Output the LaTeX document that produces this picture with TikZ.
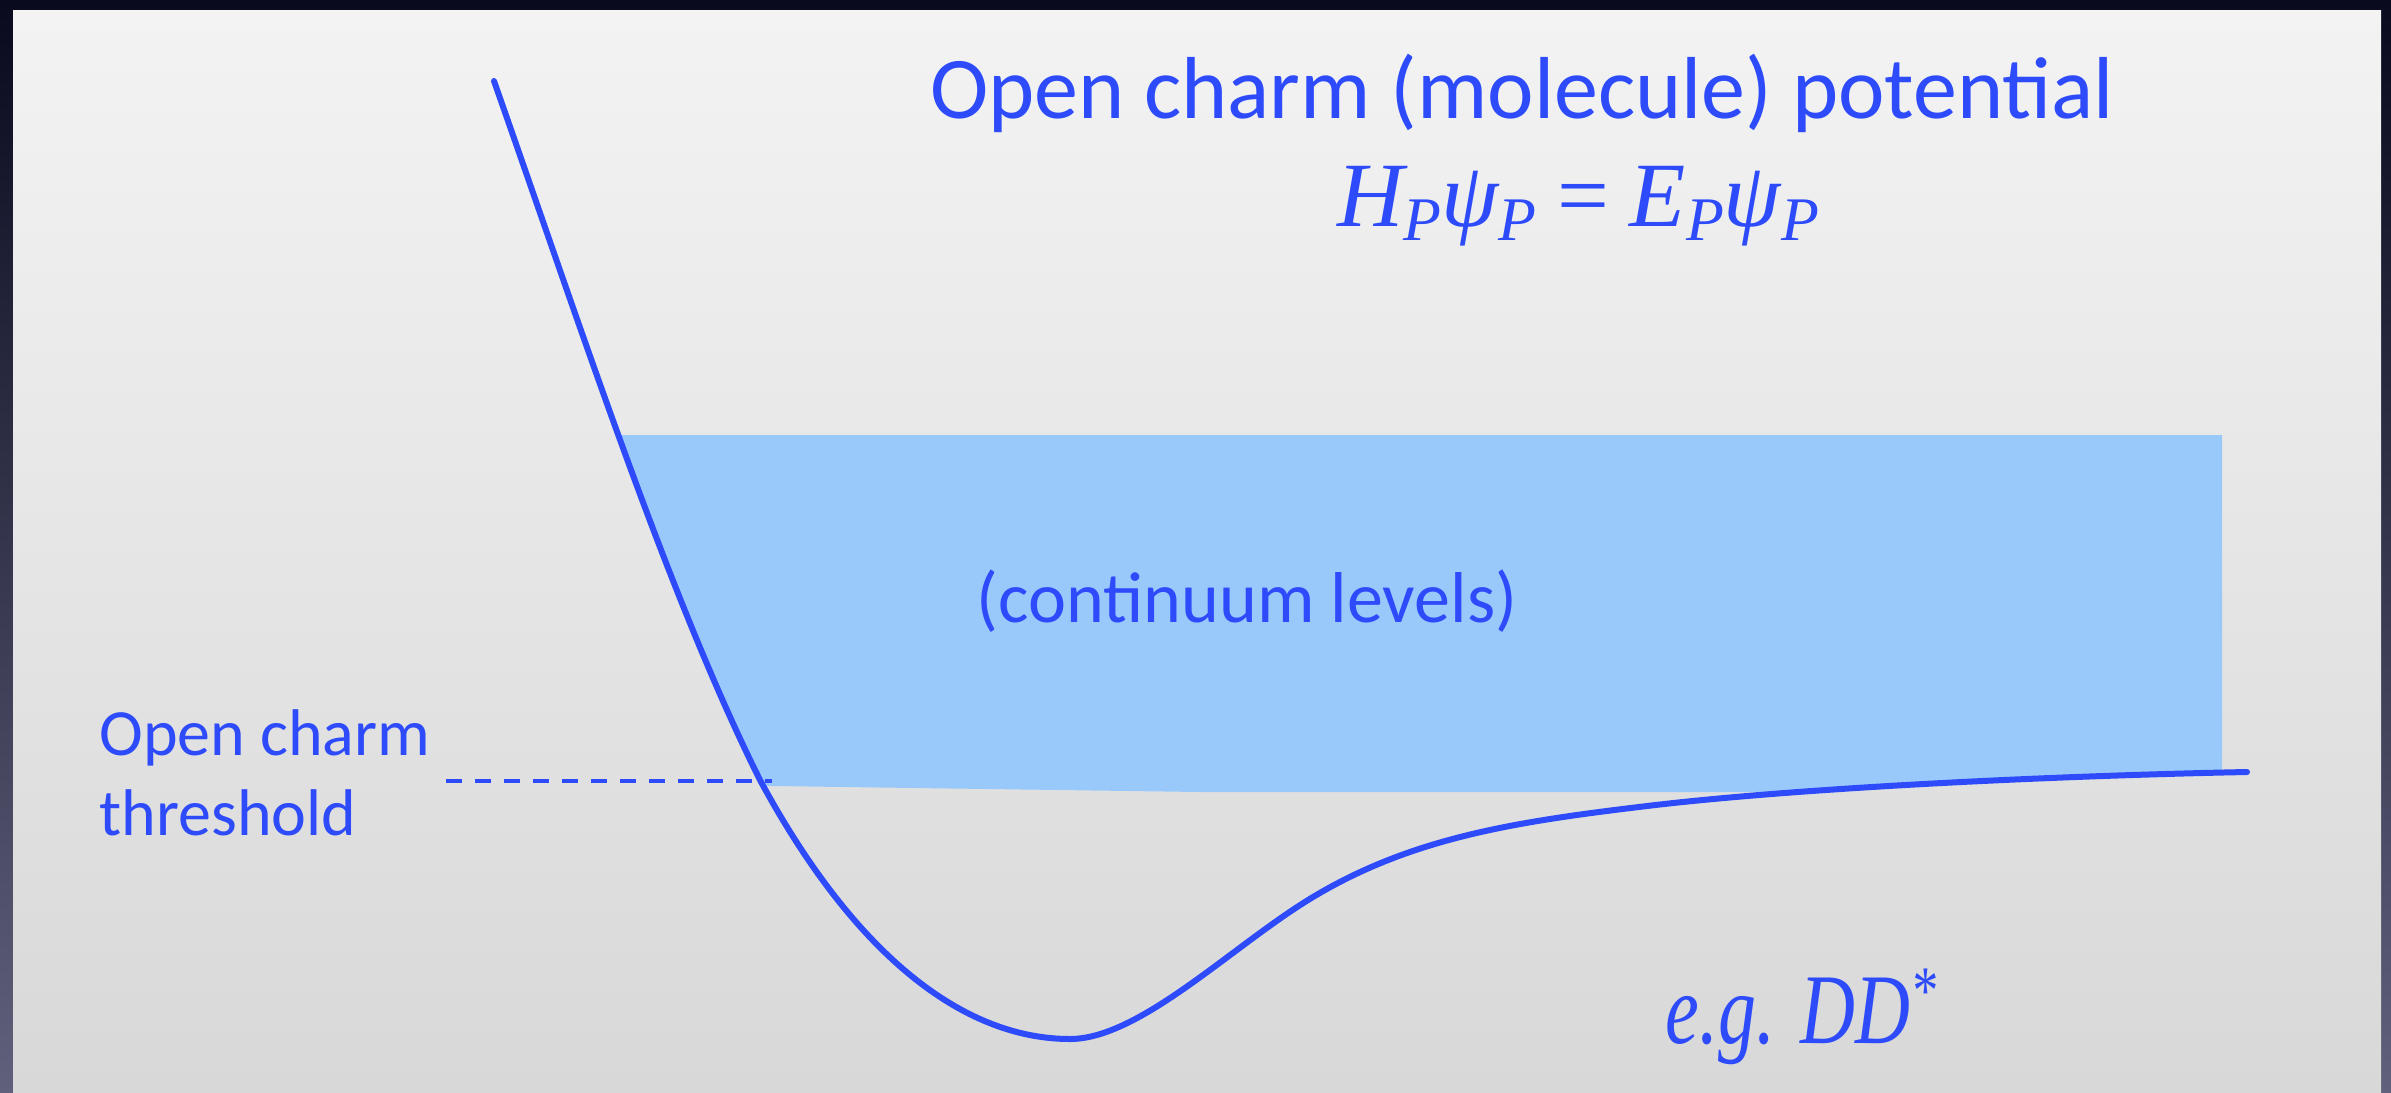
\documentclass[tikz,border=0pt]{standalone}
\usepackage{fontspec}
\setmainfont{Carlito}
\newfontfamily\eqfont{Liberation Serif}
\usepackage{graphicx}
\definecolor{potblue}{RGB}{45,75,250}
\definecolor{bandblue}{RGB}{153,201,250}
\definecolor{frametop}{RGB}{10,10,30}
\definecolor{framebot}{RGB}{96,96,124}
\definecolor{paneltop}{RGB}{243,243,243}
\definecolor{panelbot}{RGB}{216,216,216}
\newcommand{\sbP}{\raisebox{-7pt}{\fontsize{31}{31}\selectfont P}}
\tikzset{
  lbl/.style={text=potblue, inner sep=0pt},
  potline/.style={draw=potblue, line width=3pt, line cap=round},
  thrline/.style={draw=potblue, line width=2pt, dash pattern=on 8pt off 6.5pt}
}
\begin{document}
\begin{tikzpicture}[x=0.5pt, y=-0.5pt]
\useasboundingbox (0,0) rectangle (2391,1092);
% frame and panel
\shade[top color=frametop, bottom color=framebot] (0,0) rectangle (2391,1092);
\shade[top color=paneltop, bottom color=panelbot] (13,10) rectangle (2381,1092);
% continuum band, clipped to the region above the potential
\begin{scope}
\clip (494,81) .. controls (584,337) and (670,600) .. (760,780)
  .. controls (860,965) and (970,1039) .. (1070,1039)
  .. controls (1140,1039) and (1233,945) .. (1313,897)
  .. controls (1413,837) and (1517,821.6) .. (1647,806)
  .. controls (1797,788) and (2047,776) .. (2247,772)
  -- (2400,772) -- (2400,0) -- (494,0) -- cycle;
\fill[bandblue] (500,435) -- (2222,435) -- (2222,800) -- (1800,792) -- (1200,792) -- (773,786) -- (500,784) -- cycle;
\end{scope}
% threshold
\coordinate (thrL) at (446,781);
\coordinate (thrR) at (772,781);
\draw[thrline] (thrL) -- (thrR);
% potential curve
\coordinate (potStart) at (494,81);
\coordinate (potEnd) at (2247,772);
\draw[potline] (potStart) .. controls (584,337) and (670,600) .. (760,780)
  .. controls (860,965) and (970,1039) .. (1070,1039)
  .. controls (1140,1039) and (1233,945) .. (1313,897)
  .. controls (1413,837) and (1517,821.6) .. (1647,806)
  .. controls (1797,788) and (2047,776) .. (potEnd);
% texts
\node[lbl, anchor=base, font=\fontsize{44}{53}\selectfont] (title) at (1522,118) {Open charm (molecule) potential};
\node[lbl, anchor=base, font=\fontsize{46}{55}\selectfont] (eq) at (1578,226) {{\eqfont\itshape H\sbP ψ\sbP} {\eqfont =} {\eqfont\itshape E\sbP ψ\sbP}};
\node[lbl, anchor=base, font=\fontsize{36}{43}\selectfont] (cont) at (1247,622) {(continuum levels)};
\node[lbl, anchor=base west, font=\fontsize{33}{40}\selectfont] (thr1) at (99,755) {Open charm};
\node[lbl, anchor=base west, font=\fontsize{33}{40}\selectfont] (thr2) at (99,835) {threshold};
\node[lbl, anchor=base west, font=\eqfont\itshape\fontsize{50}{60}\selectfont] (eg) at (1665,1043) {\scalebox{0.76}[1]{e.g. DD\raisebox{15pt}{\fontsize{34}{34}\selectfont *}}};
\end{tikzpicture}
\end{document}
